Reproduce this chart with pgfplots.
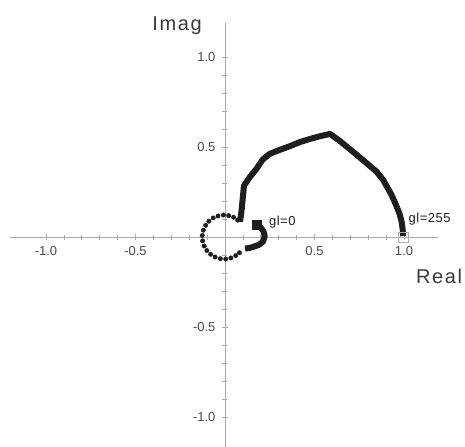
\documentclass[border=0pt]{standalone}
\usepackage{fontspec}
\setmainfont{Liberation Sans}
\newfontfamily\axisnamefont[LetterSpace=8]{Liberation Sans}
\newfontfamily\markfont[LetterSpace=4]{Liberation Sans}
\usepackage{pgfplots}
\pgfplotsset{compat=1.18}
\definecolor{axisgray}{HTML}{AAAAAA}
\definecolor{labelgray}{HTML}{4A4A4A}
\definecolor{namegray}{HTML}{3A3A3A}
\definecolor{curve}{HTML}{1E1E1E}

\begin{document}
\begin{tikzpicture}
\begin{axis}[
  x=179pt, y=180pt,
  xmin=-1.2, xmax=1.19, ymin=-1.17, ymax=1.19,
  axis lines=middle,
  axis line style={draw=axisgray, line width=0.8pt, -},
  clip=false,
  xtick={-1,-0.5,0.5,1}, ytick={-1,-0.5,0.5,1},
  xticklabels={-1.0,-0.5,0.5,1.0},
  yticklabels={-1.0,-0.5,0.5,1.0},
  minor xtick={-0.9,-0.8,-0.7,-0.6,-0.4,-0.3,-0.2,-0.1,0.1,0.2,0.3,0.4,0.6,0.7,0.8,0.9},
  minor ytick={-0.9,-0.8,-0.7,-0.6,-0.4,-0.3,-0.2,-0.1,0.1,0.2,0.3,0.4,0.6,0.7,0.8,0.9},
  tick style={draw=axisgray, line width=0.7pt},
  tick align=center,
  major tick length=6pt, minor tick length=5pt,
  ticklabel style={font=\fontsize{13}{15}\selectfont, text=labelgray},
  xticklabel style={yshift=-3pt},
  yticklabel style={xshift=-3pt},
]
% locus from gl=0 (the square) down round the hook
\addplot[curve, line width=6pt, line join=round] coordinates {
  (0.177,0.067) (0.198,0.055) (0.215,0.032) (0.222,0.005) (0.213,-0.025)
  (0.19,-0.043) (0.16,-0.054) (0.135,-0.061) (0.112,-0.064)
};
% dotted part of the locus around the origin
\addplot[only marks, mark=*, mark size=2.2pt, color=curve] coordinates {
  (0.081,-0.087) (0.060,-0.103) (0.033,-0.116) (0.004,-0.122)
  (-0.026,-0.120) (-0.055,-0.111) (-0.080,-0.096) (-0.101,-0.075)
  (-0.116,-0.050) (-0.125,-0.021) (-0.127,0.009) (-0.121,0.038)
  (-0.108,0.065) (-0.090,0.088) (-0.066,0.106) (-0.039,0.117)
  (-0.009,0.122) (0.020,0.119) (0.048,0.110) (0.071,0.094)
};
% solid arc up to gl=255
\addplot[curve, line width=6pt, line join=round] coordinates {
  (0.084,0.085) (0.093,0.15) (0.100,0.224) (0.106,0.285) (0.14,0.335)
  (0.177,0.38) (0.21,0.43) (0.25,0.462) (0.30,0.482) (0.363,0.505)
  (0.42,0.528) (0.475,0.545) (0.53,0.560) (0.587,0.573) (0.64,0.535)
  (0.715,0.474) (0.78,0.42) (0.847,0.363) (0.884,0.317) (0.93,0.235)
  (0.955,0.18) (0.975,0.13) (0.987,0.085) (0.993,0.04) (0.995,0.005)
};
% start marker (gl=0)
\addplot[only marks, mark=square*, mark size=4.3pt, color=curve] coordinates {(0.177,0.067)};
% end marker (gl=255)
\addplot[only marks, mark=square, mark size=5pt, color=axisgray, mark options={line width=0.8pt}] coordinates {(0.996,-0.004)};

\node[anchor=base, font=\axisnamefont\fontsize{20}{24}\selectfont, text=namegray] at (axis cs:-0.268,1.15) {Imag};
\node[anchor=base, font=\axisnamefont\fontsize{20}{24}\selectfont, text=namegray] at (axis cs:1.196,-0.256) {Real};
\node[anchor=west, inner sep=0pt, font=\markfont\fontsize{13}{15}\selectfont, text=curve] at (axis cs:0.245,0.085) {gl=0};
\node[anchor=west, inner sep=0pt, font=\markfont\fontsize{13}{15}\selectfont, text=curve] at (axis cs:1.025,0.100) {gl=255};

\coordinate (bbll) at (axis cs:-1.257,-1.161);
\coordinate (bbur) at (axis cs:1.341,1.317);
\end{axis}
\pgfresetboundingbox
\path (bbll) rectangle (bbur);
\end{tikzpicture}
\end{document}
